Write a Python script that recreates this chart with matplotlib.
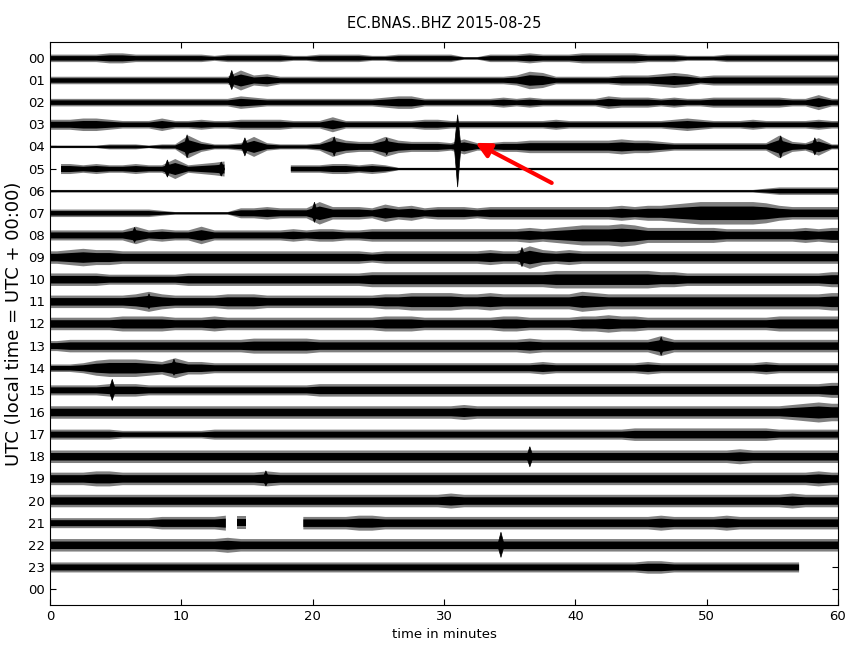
import numpy as np
import matplotlib.pyplot as plt

TITLE = 'EC.BNAS..BHZ 2015-08-25'
PX_PER_ROW = 22.13   # vertical pixels between two hour lines

hour_labels = ['%02d' % h for h in range(24)] + ['00']

# half amplitude of each hourly trace in pixels, one character per minute
envelopes = [
    '3333443333' '3323333322' '3333223333' '3113334333' '4444433322' '2333333333',  # 00
    '3333333333' '3333845333' '3333333333' '3333347633' '3334445653' '4444444444',  # 01
    '3333333333' '3333543333' '3333345533' '3333434333' '3354443433' '4444443363',  # 02
    '4455433353' '3433444433' '3633333344' '3333333343' '3333333454' '3334333343',  # 03
    '1111222122' '9422383222' '3854485444' '3633445555' '5556554333' '3333394372',  # 04
    '4434334338' '3456333333' '3443431111' '1111111111' '1111111111' '1111111111',  # 05
    '1111111111' '1111111111' '1111111111' '1111111111' '1111111111' '1111233333',  # 06
    '3333333321' '1111445444' '9555475645' '5545555555' '5556566789' '9999865555',  # 07
    '4444447454' '4744444454' '5544555555' '5555556567' '8889866666' '6555555656',  # 08
    '5676655555' '5555555555' '5555455555' '5556559656' '5555555555' '5555555555',  # 09
    '5555444444' '5555555555' '5555666666' '6666666677' '7777776655' '5555555556',  # 10
    '5555556865' '5556665555' '5555566777' '7667666666' '8766666666' '6666666667',  # 11
    '5555566665' '5565555555' '5555566655' '5555665555' '6676655555' '5555566666',  # 12
    '4555555555' '5555566666' '5555555555' '5555556555' '5555558555' '5555555555',  # 13
    '3346777658' '5544444444' '4444444444' '4444444544' '4444454444' '4444544444',  # 14
    '4444555444' '4444444444' '5555555555' '5555555555' '5555555555' '5555555556',  # 15
    '5555555555' '5555555555' '5555555555' '5655555555' '5555555555' '5555556787',  # 16
    '4444433333' '3344444444' '4444444444' '4444444444' '4444555555' '5555544444',  # 17
    '5555555555' '5555555555' '5555555555' '5555555555' '5555555555' '5565555555',  # 18
    '5556655555' '5555556555' '5555555555' '5555555555' '5555555555' '5555555565',  # 19
    '5555555555' '5555555555' '5555555555' '6555555555' '5555555555' '5555556555',  # 20
    '4444444455' '5556555555' '5556655555' '5555555555' '5555556555' '5655555555',  # 21
    '5555555555' '5556555555' '5555555555' '5555555555' '5555555555' '5555555555',  # 22
    '4444444444' '4444444444' '4444444444' '4444444444' '4444455444' '4444444444',  # 23
]

# data gaps: (hour row, start minute, end minute)
gaps = [(5, 0.0, 0.8), (5, 13.25, 18.3), (21, 13.35, 14.25),
        (21, 14.9, 19.25), (23, 57.0, 60.0)]

# short transients: (hour row, minute, pixels up, pixels down)
events = [(1, 13.8, 10, 9), (4, 10.4, 12, 11), (4, 14.8, 9, 9), (4, 21.6, 10, 9),
          (4, 25.6, 9, 8), (4, 31.0, 32, 40), (4, 55.6, 11, 11), (4, 58.2, 9, 8),
          (5, 8.9, 9, 8), (5, 13.0, 7, 7), (7, 20.1, 11, 9), (8, 6.4, 8, 7),
          (9, 35.9, 10, 9), (11, 7.5, 8, 7), (13, 46.5, 9, 9), (14, 9.4, 9, 7),
          (15, 4.7, 11, 10), (18, 36.5, 10, 10), (19, 16.4, 8, 7), (22, 34.3, 13, 12)]

# red arrow pointing at the event (minute, row)
arrow_head = (32.4, 3.84)
arrow_tail = (38.2, 5.65)


def segments(row):
    cuts = sorted((s, e) for r, s, e in gaps if r == row)
    start = 0.0
    for s, e in cuts:
        if s > start:
            yield start, s
        start = e
    if start < 60:
        yield start, 60.0


fig = plt.figure(figsize=(8.55, 6.45), dpi=100)
ax = fig.add_axes([0.0585, 0.062, 0.9216, 0.873])

centers = np.arange(60) + 0.5
for row, env in enumerate(envelopes):
    amp = np.array([int(c) for c in env]) / PX_PER_ROW
    for a, b in segments(row):
        inside = (centers > a) & (centers < b)
        xs = np.concatenate([[a], centers[inside], [b]])
        ys = np.concatenate([[amp[min(int(a), 59)]], amp[inside],
                             [amp[min(int(b - 1e-6), 59)]]])
        # faint outer fringe, then the dense core of the trace
        outer = np.maximum(ys * 1.25, 1.0 / PX_PER_ROW)
        ax.fill_between(xs, row - outer, row + outer, color='k', alpha=0.5, lw=0)
        core = np.maximum(ys * 0.75, 1.0 / PX_PER_ROW)
        ax.fill_between(xs, row - core, row + core, color='k', lw=0)

for row, m, up, down in events:
    w = 0.25
    ax.fill_between([m - w, m, m + w], [row, row - up / PX_PER_ROW, row],
                    [row, row + down / PX_PER_ROW, row], color='k', lw=0.5)

ax.annotate('', xy=arrow_head, xytext=arrow_tail,
            arrowprops=dict(arrowstyle='-|>', color='red', lw=3,
                            mutation_scale=22, shrinkA=0, shrinkB=0))

ax.set_xlim(0, 60)
ax.set_ylim(24.72, -0.72)
ax.set_xticks(range(0, 61, 10))
ax.set_yticks(range(25))
ax.set_yticklabels(hour_labels)
ax.tick_params(direction='in', top=True, right=True, length=4, labelsize=9.5)
ax.set_xlabel('time in minutes', fontsize=9.5)
ax.set_ylabel('UTC (local time = UTC + 00:00)', fontsize=13)
ax.set_title(TITLE, fontsize=10.5, pad=10)

fig.savefig('out.png', dpi=100)
